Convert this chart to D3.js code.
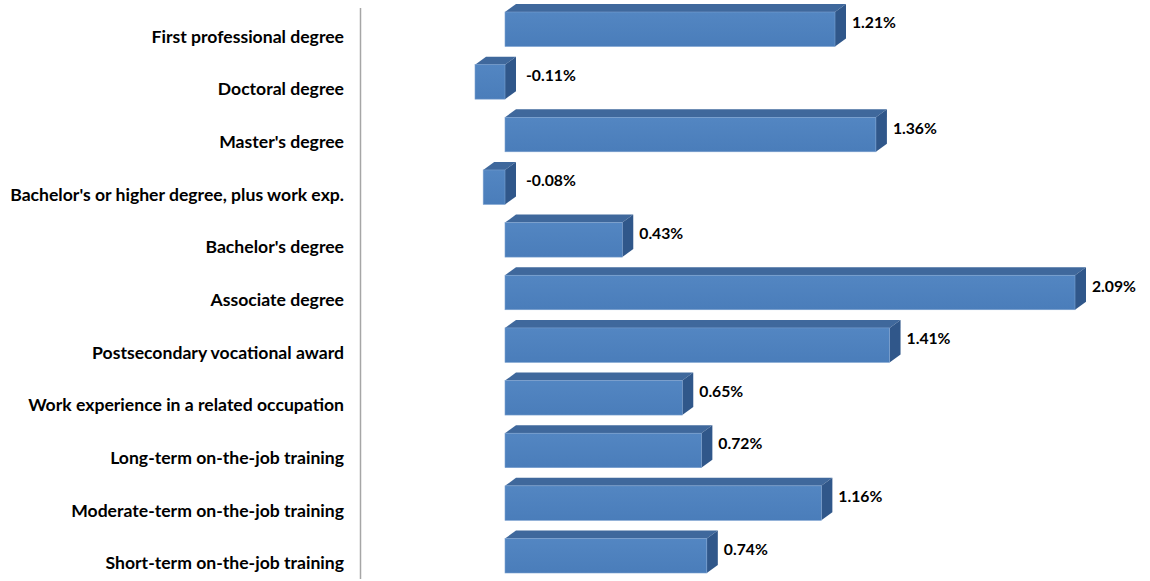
<!DOCTYPE html>
<html>
<head>
<meta charset="utf-8">
<script src="https://cdn.jsdelivr.net/npm/d3@7"></script>
<style>
  html, body { margin: 0; padding: 0; background: #fff; }
  svg { display: block; }
  text { font-family: Lato, "Open Sans", sans-serif; font-weight: bold; fill: #000; }
</style>
</head>
<body>
<svg id="chart" width="1150" height="581"></svg>
<script>
const categories = [
  "First professional degree",
  "Doctoral degree",
  "Master's degree",
  "Bachelor's or higher degree, plus work exp.",
  "Bachelor's degree",
  "Associate degree",
  "Postsecondary vocational award",
  "Work experience in a related occupation",
  "Long-term on-the-job training",
  "Moderate-term on-the-job training",
  "Short-term on-the-job training"
];
const values = [1.21, -0.11, 1.36, -0.08, 0.43, 2.09, 1.41, 0.65, 0.72, 1.16, 0.74];
const valueLabels = ["1.21%", "-0.11%", "1.36%", "-0.08%", "0.43%", "2.09%", "1.41%", "0.65%", "0.72%", "1.16%", "0.74%"];

const svg = d3.select("#chart");
const x = d3.scaleLinear().domain([0, 2.09]).range([505, 1075]);
const y = d3.scaleBand().domain(categories).range([12, 573]).paddingInner(0.345).paddingOuter(0);
const bw = y.bandwidth();
const dx = 11, dy = 8;

// vertical axis line
svg.append("line")
  .attr("x1", 360.5).attr("x2", 360.5)
  .attr("y1", 8).attr("y2", 579)
  .attr("stroke", "#a6a6a6").attr("stroke-width", 1.5);

const defs = svg.append("defs");
const g1 = defs.append("linearGradient").attr("id", "front").attr("x1", 0).attr("y1", 0).attr("x2", 0).attr("y2", 1);
g1.append("stop").attr("offset", "0%").attr("stop-color", "#5386c2");
g1.append("stop").attr("offset", "100%").attr("stop-color", "#4a7dba");

const data = categories.map((c, i) => ({ c, v: values[i], lab: valueLabels[i] }));

const bars = svg.append("g").selectAll("g").data(data).join("g");

const valueTexts = [];
bars.each(function(d) {
  const g = d3.select(this);
  const x0 = Math.min(x(0), x(d.v));
  const x1 = Math.max(x(0), x(d.v));
  const t = y(d.c), b = t + bw;
  g.append("path")
    .attr("d", `M${x0},${t} L${x0 + dx},${t - dy} L${x1 + dx},${t - dy} L${x1},${t} Z`)
    .attr("fill", "#3f689c");
  g.append("path")
    .attr("d", `M${x1},${t} L${x1 + dx},${t - dy} L${x1 + dx},${b - dy} L${x1},${b} Z`)
    .attr("fill", "#30578a");
  g.append("rect")
    .attr("x", x0).attr("y", t)
    .attr("width", x1 - x0).attr("height", bw)
    .attr("fill", "url(#front)")
    .attr("stroke", "#7aa0cf").attr("stroke-width", 0.6);
  const lx = d.v >= 0 ? x1 + dx + 6 : x(0) + dx + 10;
  const tx = g.append("text")
    .attr("x", lx)
    .attr("y", t + bw / 2 - 5)
    .attr("dominant-baseline", "middle")
    .attr("font-size", 14.5)
    .text(d.lab);
  valueTexts.push(tx);
});

// category labels
const catTexts = svg.append("g").selectAll("text").data(data).join("text")
  .attr("x", 344)
  .attr("y", d => y(d.c) + bw / 2 + 9)
  .attr("text-anchor", "end")
  .attr("dominant-baseline", "middle")
  .attr("font-size", 14.5)
  .text(d => d.c);

// fit font sizes to the reference text widths
const longest = catTexts.filter((d, i) => i === 3).node().getComputedTextLength();
catTexts.attr("font-size", 14.5 * 334 / longest);
const vlen = valueTexts[0].node().getComputedTextLength();
valueTexts.forEach(t => t.attr("font-size", 14.5 * 44 / vlen));
</script>
</body>
</html>
